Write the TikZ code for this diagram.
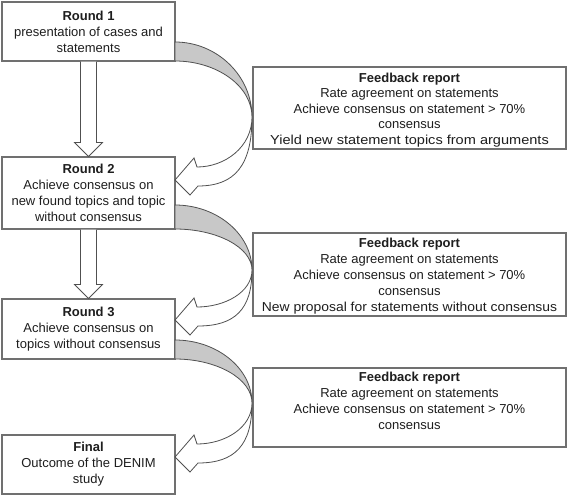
\documentclass[tikz,border=0pt]{standalone}
\usepackage{fontspec}
\usepackage{graphicx}
\setmainfont{Liberation Sans}
\usetikzlibrary{calc}
\definecolor{boxgray}{HTML}{707070}
\definecolor{arrgray}{HTML}{505050}
\definecolor{bandgray}{HTML}{C8C8C8}
\definecolor{txt}{HTML}{1E1E1E}
\newcommand\fbarrow[4]{%
  \filldraw[band] (175,#1) .. controls (217,#1) and (252,{#3-0.55*(#3-#1)}) .. (252,#3)
     .. controls (252,{#3-0.55*(#3-#2)}) and (217,#2) .. (175,#2) -- cycle;
  \filldraw[hollow] (252,#3) .. controls (252,{#3+0.7*(#4+6-#3)}) and (235,#4+6) .. (198,#4+6)
     -- (190,#4+15) -- (175,#4) -- (194,#4-22) -- (197,#4-13)
     .. controls (225,#4-13) and (252,{#3+0.6*(#4-13-#3)}) .. (252,#3) -- cycle;
}
\begin{document}
\begin{tikzpicture}[x=1pt,y=-1pt,
  box/.style={draw=boxgray, line width=1.1pt, inner sep=0pt, align=center,
              font=\fontsize{13}{16}\selectfont, text=txt},
  fbtext/.style={inner sep=0pt, align=center, font=\fontsize{13}{16}\selectfont, text=txt},
  band/.style={draw=arrgray, line width=0.8pt, fill=bandgray, line join=round},
  hollow/.style={draw=arrgray, line width=0.8pt, fill=white, line join=miter}]
\useasboundingbox (0,0) rectangle (567,496);
\fill[white] (0,0) rectangle (567,496);

% round boxes
\node[box, minimum width=173pt, minimum height=59pt] (r1) at (88.5,31.5)
  {\textbf{Round 1}\\presentation of cases and\\statements};
\node[box, minimum width=173pt, minimum height=72pt] (r2) at (88.5,193)
  {\textbf{Round 2}\\Achieve consensus on\\new found topics and topic\\without consensus};
\node[box, minimum width=173pt, minimum height=60pt] (r3) at (88.5,329)
  {\textbf{Round 3}\\Achieve consensus on\\topics without consensus};
\node[box, minimum width=173pt, minimum height=59pt] (fin) at (88.5,464.5)
  {\textbf{Final}\\Outcome of the DENIM\\study};

% feedback boxes
\node[box, minimum width=313pt, minimum height=82pt] (fb1) at (409.5,108) {};
\node[fbtext, anchor=north, font=\fontsize{13}{15.5}\selectfont] (fb1t) at ([yshift=-6pt]fb1.north)
  {\textbf{Feedback report}\\Rate agreement on statements\\Achieve consensus on statement > 70\%\\consensus\\\scalebox{1.12}[1]{Yield new statement topics from arguments}};
\node[box, minimum width=313pt, minimum height=83pt] (fb2) at (409.5,274.5) {};
\node[fbtext, anchor=north] (fb2t) at ([yshift=-5pt]fb2.north)
  {\textbf{Feedback report}\\Rate agreement on statements\\Achieve consensus on statement > 70\%\\consensus\\\scalebox{1.07}[1]{New proposal for statements without consensus}};
\node[box, minimum width=313pt, minimum height=79pt] (fb3) at (409.5,407.5) {};
\node[fbtext, anchor=north] (fb3t) at ([yshift=-4pt]fb3.north)
  {\textbf{Feedback report}\\Rate agreement on statements\\Achieve consensus on statement > 70\%\\consensus};

% straight hollow arrows
\draw[hollow] ($(r1.south)+(-8,0)$) -- ($(r2.north)+(-8,-14)$) -- ($(r2.north)+(-14,-14)$)
  -- (r2.north) -- ($(r2.north)+(14,-14)$) -- ($(r2.north)+(8,-14)$) -- ($(r1.south)+(8,0)$);
\draw[hollow] ($(r2.south)+(-8,0)$) -- ($(r3.north)+(-8,-14)$) -- ($(r3.north)+(-14,-14)$)
  -- (r3.north) -- ($(r3.north)+(14,-14)$) -- ($(r3.north)+(8,-14)$) -- ($(r2.south)+(8,0)$);

% curved feedback arrows
\fbarrow{42}{61}{117}{180}
\fbarrow{205}{229}{270}{320}
\fbarrow{340}{359}{403}{457}
\end{tikzpicture}
\end{document}
